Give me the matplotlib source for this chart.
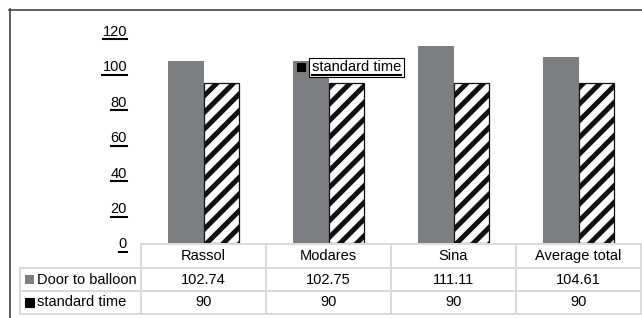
import matplotlib
matplotlib.use("Agg")
import matplotlib.pyplot as plt
import numpy as np
from matplotlib.patches import Rectangle
from matplotlib.lines import Line2D

# data
categories = ["Rassol", "Modares", "Sina", "Average total"]
door_to_balloon = [102.74, 102.75, 111.11, 104.61]
standard_time = [90, 90, 90, 90]
series_names = ["Door to balloon", "standard time"]
y_ticks = [0, 20, 40, 60, 80, 100, 120]

W, H = 642, 318
GRAY = "#7d7e82"
GRID = "#d9d9d9"
FS = 10.5

plt.rcParams["font.family"] = ["Liberation Sans", "DejaVu Sans"]
plt.rcParams["hatch.linewidth"] = 3.6

fig = plt.figure(figsize=(W / 100, H / 100), dpi=100)


def fx(px):
    return px / W


def fy(py):
    return 1 - py / H


# plot area, pixel box (left, right, top, bottom)
PL, PR, PT, PB = 141, 641, 30, 243
ax = fig.add_axes([fx(PL), fy(PB), (PR - PL) / W, (PB - PT) / H])

n = len(categories)
x = np.arange(n)
bw = 0.286
ax.bar(x - bw / 2, door_to_balloon, bw, color=GRAY, linewidth=0, zorder=2)
ax.bar(x + bw / 2, standard_time, bw, facecolor="white", edgecolor="#111111",
       hatch="//", linewidth=0.9, zorder=2)

ax.set_xlim(-0.5, n - 0.5)
ax.set_ylim(0, 120)
ax.set_xticks([])
ax.set_yticks(y_ticks)
ax.set_yticklabels([str(t) for t in y_ticks])
ax.tick_params(axis="y", length=0, pad=10, labelsize=FS)
for s in ax.spines.values():
    s.set_visible(False)
ax.patch.set_alpha(0)

# in-plot legend label for the hatched series
ax.add_patch(Rectangle((0.312, 0.8075), 0.016, 0.0376, transform=ax.transAxes,
                       facecolor="white", edgecolor="black", hatch="//////",
                       linewidth=0.8, zorder=5))
leg_txt = ax.text(0.342, 0.824, series_names[1], transform=ax.transAxes,
                  ha="left", va="center", fontsize=FS, zorder=6,
                  bbox=dict(boxstyle="square,pad=0.2", facecolor="white",
                            edgecolor="black", linewidth=0.8))

# overlay axes in pixel coordinates for the table and frame
tax = fig.add_axes([0, 0, 1, 1])
tax.set_xlim(0, W)
tax.set_ylim(H, 0)
tax.axis("off")
tax.patch.set_alpha(0)

# outer chart frame (only top/left are in view)
tax.add_line(Line2D([9, W], [9.5, 9.5], color="#444444", lw=1.2))
tax.add_line(Line2D([9.5, 9.5], [9, H], color="#444444", lw=1.2))

# table geometry
col_edges = [PL + i * (PR - PL) / n for i in range(n + 1)]
row_edges = [PB + 1, 268, 291, 314]
label_left = 20

tax.add_line(Line2D([PL, PR], [row_edges[0]] * 2, color=GRID, lw=1.4))
for ry in row_edges[1:]:
    tax.add_line(Line2D([label_left, PR], [ry, ry], color=GRID, lw=1.4))
for cx in col_edges:
    tax.add_line(Line2D([cx, cx], [row_edges[0], row_edges[-1]], color=GRID, lw=1.4))
tax.add_line(Line2D([label_left, label_left], [row_edges[1], row_edges[-1]],
                    color=GRID, lw=1.4))

centers = [(col_edges[i] + col_edges[i + 1]) / 2 for i in range(n)]
hy = (row_edges[0] + row_edges[1]) / 2
for cx, name in zip(centers, categories):
    tax.text(cx, hy, name, ha="center", va="center", fontsize=FS)

rows = [door_to_balloon, standard_time]
for r, (name, vals) in enumerate(zip(series_names, rows)):
    ry = (row_edges[r + 1] + row_edges[r + 2]) / 2
    if r == 0:
        tax.add_patch(Rectangle((25, ry - 4.5), 9, 9, facecolor=GRAY, linewidth=0))
    else:
        tax.add_patch(Rectangle((25, ry - 4.5), 9, 9, facecolor="white",
                                edgecolor="black", hatch="//////", linewidth=0.8))
    tax.text(37, ry, name, ha="left", va="center", fontsize=FS)
    for cx, v in zip(centers, vals):
        tax.text(cx, ry, f"{v:g}", ha="center", va="center", fontsize=FS)

# underline y tick labels and legend text
fig.canvas.draw()
renderer = fig.canvas.get_renderer()
under = list(ax.get_yticklabels()) + [leg_txt]
for t in under:
    bb = t.get_window_extent(renderer)
    yb = bb.y0 - 0.6
    fig.add_artist(Line2D([bb.x0, bb.x1], [yb, yb], transform=None,
                          color="black", lw=1.5, zorder=10))

fig.savefig("out.png", dpi=100)
